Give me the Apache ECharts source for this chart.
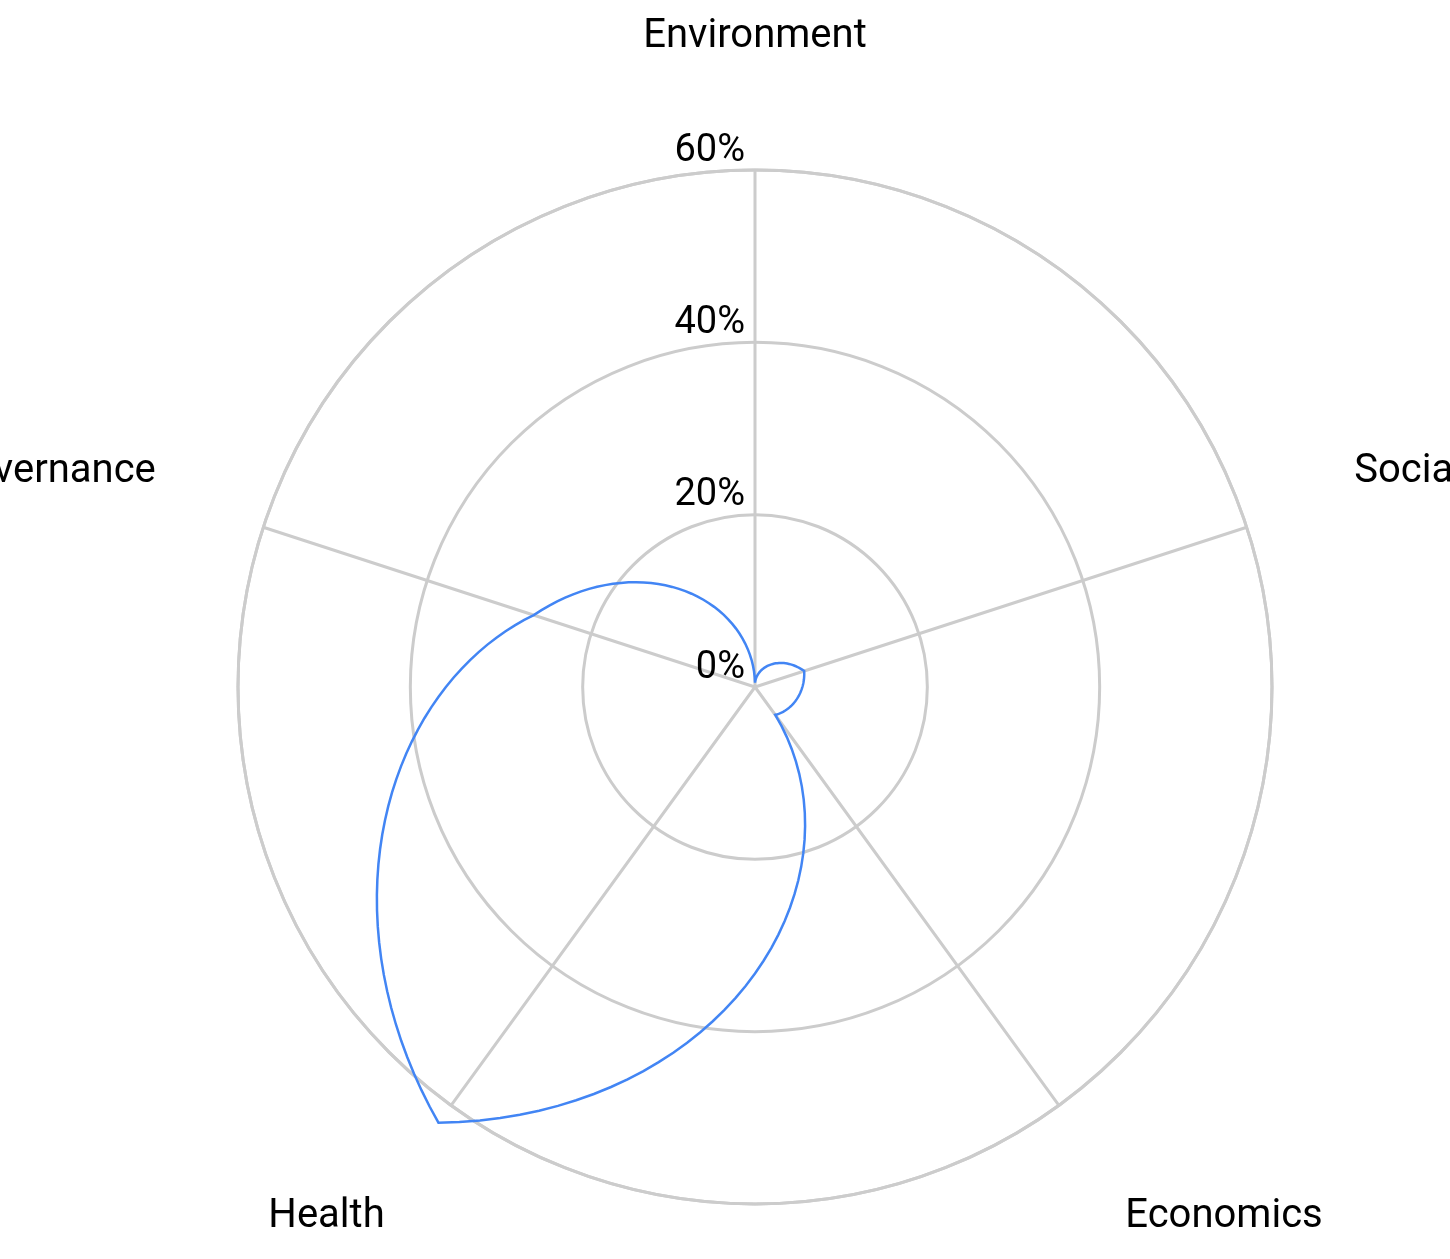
<!DOCTYPE html><html><head><meta charset="utf-8"><script src="https://cdn.jsdelivr.net/npm/echarts@6/dist/echarts.min.js"></script></head><body style="margin:0"><div id="c" style="width:1450px;height:1259px"></div><script>
const categories=['Environment','Social','Economics','Health','Governance'];
const values=[0.5,6,4,62.5,27];
const radiusTicks=['0%','20%','40%','60%'];
const data=values.map((v,i)=>[v,i*72]);
const ch=echarts.init(document.getElementById('c'));
ch.setOption({
 polar:{center:[755,687],radius:517},
 angleAxis:{type:'value',min:0,max:360,interval:72,startAngle:90,clockwise:true,
  axisLine:{lineStyle:{color:'#cccccc',width:3}},axisTick:{show:false},
  axisLabel:{margin:113,align:'center',verticalAlign:'middle',fontFamily:'Roboto',fontSize:40,color:'#000',formatter:v=>categories[Math.round(v/72)]||''},
  splitLine:{lineStyle:{color:'#cccccc',width:3}}},
 radiusAxis:{type:'value',min:0,max:60,interval:20,axisLine:{show:false},axisTick:{show:false},
  axisLabel:{fontFamily:'Roboto',fontSize:38,color:'#000',formatter:v=>radiusTicks[v/20],margin:10,verticalAlign:'bottom'},
  splitLine:{lineStyle:{color:'#cccccc',width:3}}},
 series:[{type:'custom',coordinateSystem:'polar',data:[0],clip:false,
  renderItem:function(params,api){
   const c=api.coord([0,0]);const top=api.coord([60,0]);
   const k=(c[1]-top[1])/60;
   const pts=[];const n=data.length;
   for(let i=0;i<n;i++){
    const a=data[i],b=data[(i+1)%n];
    const a0=a[1],a1=a0+72;
    for(let s=0;s<=40;s++){
     const t=s/40;const ang=a0+(a1-a0)*t;const r=a[0]+(b[0]-a[0])*t;
     const th=(90-ang)*Math.PI/180;
     pts.push([c[0]+r*k*Math.cos(th),c[1]-r*k*Math.sin(th)]);
    }
   }
   return {type:'polyline',shape:{points:pts},style:{fill:null,stroke:'#4285f4',lineWidth:2.5}};
  }}]
});
</script></body></html>
